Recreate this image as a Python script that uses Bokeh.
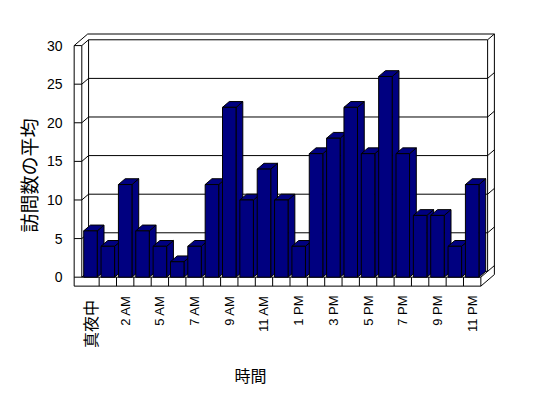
import math
from bokeh.plotting import figure
from bokeh.models import Range1d, ColumnDataSource
from bokeh.core.properties import value
from bokeh.embed import file_html
from bokeh.resources import INLINE

# ---- data ----
hours = ["真夜中", "1 AM", "2 AM", "3 AM", "5 AM", "6 AM", "7 AM", "8 AM", "9 AM",
         "10 AM", "11 AM", "12 PM", "1 PM", "2 PM", "3 PM", "4 PM", "5 PM", "6 PM",
         "7 PM", "8 PM", "9 PM", "10 PM", "11 PM"]
visits = [6, 4, 12, 6, 4, 2, 4, 12, 22, 10, 14, 10, 4, 16, 18, 22, 16, 26, 16, 8, 8, 4, 12]
y_ticks = [0, 5, 10, 15, 20, 25, 30]
shown_idx = list(range(0, len(hours), 2))
x_title = "時間"
y_title = "訪問数の平均"

# ---- geometry (style) ----
L = -0.5
R = len(visits) - 0.5
T = y_ticks[-1]
ddx, ddy = 0.39, 0.75      # depth offset
WT, FT = 0.44, 1.16        # wall / floor thickness
hw = 0.39                  # bar half width
NAVY = "#000080"

p = figure(width=532, height=390, output_backend="svg", toolbar_location=None,
           x_range=Range1d(-5.186, 25.477), y_range=Range1d(-14.68, 35.84),
           min_border=0, x_axis_type=None, y_axis_type=None)
p.min_border_left = 0
p.min_border_right = 0
p.min_border_top = 0
p.min_border_bottom = 0
p.xgrid.visible = False
p.ygrid.visible = False
p.outline_line_color = None
p.background_fill_color = "white"
p.border_fill_color = "white"

# ---- frame structure ----
xs, ys = [], []
def seg(x0, y0, x1, y1):
    xs.append([x0, x1]); ys.append([y0, y1])

# left wall
seg(L - WT, -FT, L - WT, T); seg(L, 0, L, T); seg(L - WT, T, L, T)
seg(L - WT, T, L - WT + 2 * ddx, T + 2 * ddy); seg(L, T, L + ddx, T + ddy)
# back wall
seg(L + ddx, ddy, L + ddx, T + ddy)
seg(L + ddx, T + ddy, R + ddx, T + ddy)
seg(R + ddx, ddy, R + ddx, T + ddy)
seg(L - WT + 2 * ddx, T + 2 * ddy, R + 2 * ddx, T + 2 * ddy)
seg(R + ddx, T + ddy, R + 2 * ddx, T + 2 * ddy)
seg(R + 2 * ddx, -FT + 2 * ddy, R + 2 * ddx, T + 2 * ddy)
# gridlines
for v in y_ticks[:-1]:
    seg(L - WT, v, L, v)
    seg(L, v, L + ddx, v + ddy)
    seg(L + ddx, v + ddy, R + ddx, v + ddy)
    seg(R + ddx, v + ddy, R + 2 * ddx, v + 2 * ddy)
# floor
seg(L, 0, R, 0); seg(L - WT, -FT, R, -FT); seg(R, -FT, R, 0)
for k in range(1, len(visits)):
    seg(L + k, -FT, L + k, 0)
seg(R, -FT, R + 2 * ddx, -FT + 2 * ddy)
seg(R, 0, R + ddx, ddy)
p.multi_line(xs, ys, line_color="black", line_width=1)

# ---- bars ----
bx, by = [], []
for i, v in enumerate(visits):
    bx.append([i + hw, i + hw + ddx, i + hw + ddx, i + hw])          # side
    by.append([0, ddy, v + ddy, v])
    bx.append([i - hw, i + hw, i + hw + ddx, i - hw + ddx])          # top
    by.append([v, v, v + ddy, v + ddy])
    bx.append([i - hw, i + hw, i + hw, i - hw])                      # front
    by.append([0, 0, v, v])
p.patches(bx, by, fill_color=NAVY, line_color="black", line_width=1)

# ---- tick labels ----
ysrc = ColumnDataSource(dict(x=[-1.612] * len(y_ticks), y=y_ticks,
                             t=[str(v) for v in y_ticks]))
p.text(x="x", y="y", text="t", source=ysrc, text_align="right",
       text_baseline="middle", text_font=value("Liberation Sans"),
       text_font_size="14px", text_color="black")

lat_idx = [i for i in shown_idx if hours[i].isascii()]
cjk_idx = [i for i in shown_idx if not hours[i].isascii()]
xsrc = ColumnDataSource(dict(x=lat_idx, y=[-2.37] * len(lat_idx),
                             t=[hours[i] for i in lat_idx]))
p.text(x="x", y="y", text="t", source=xsrc, angle=math.pi / 2,
       text_align="right", text_baseline="middle",
       text_font=value("Liberation Sans"), text_font_size="13px",
       text_color="black")
csrc = ColumnDataSource(dict(x=cjk_idx, y=[-2.95] * len(cjk_idx),
                             t=[hours[i] for i in cjk_idx]))
p.text(x="x", y="y", text="t", source=csrc, angle=math.pi / 2,
       text_align="right", text_baseline="middle",
       text_font=value("Noto Sans CJK JP"), text_font_size="16px",
       text_color="black")

# ---- titles ----
p.text(x=[-3.57], y=[13.17], text=[y_title], angle=math.pi / 2,
       text_align="center", text_baseline="middle",
       text_font=value("Noto Sans CJK JP"), text_font_size="19px",
       text_color="black")
p.text(x=[9.22], y=[-12.73], text=[x_title],
       text_align="center", text_baseline="middle",
       text_font=value("Noto Sans CJK JP"), text_font_size="16px",
       text_color="black")

open("out.html", "w").write(file_html(p, INLINE))
